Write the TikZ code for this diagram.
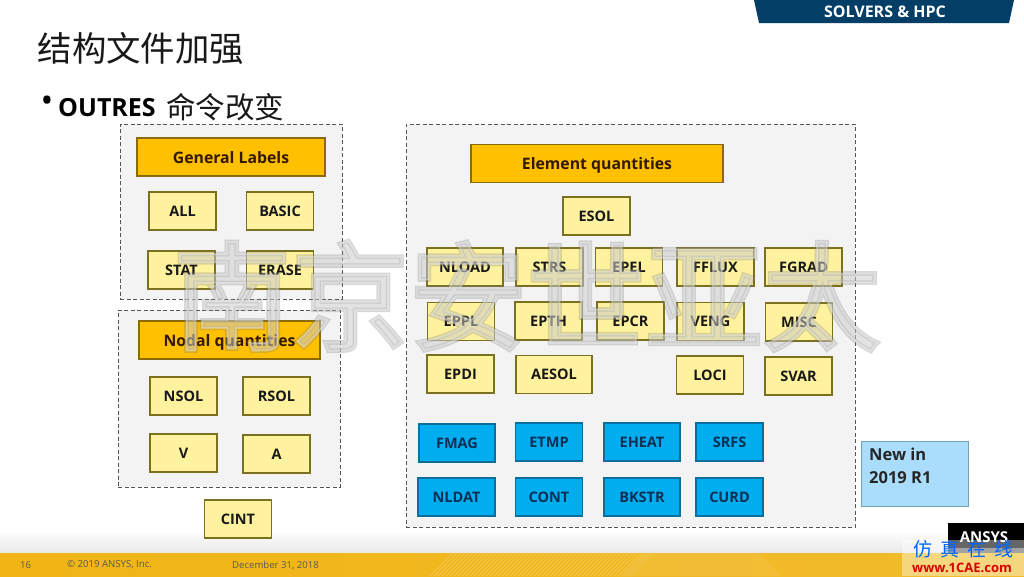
\documentclass[tikz,border=0pt]{standalone}
\usepackage{fontspec}
\setmainfont{Open Sans}
\newfontfamily\cjk{Noto Sans CJK SC}
\newfontfamily\markfont[FakeBold=4]{Noto Sans CJK SC}
\newfontfamily\markthin[FakeBold=1.5]{Noto Sans CJK SC}
\usetikzlibrary{shadings}
\definecolor{groupfill}{HTML}{F3F3F4}
\definecolor{groupline}{HTML}{555555}
\definecolor{headfill}{HTML}{FFC000}
\definecolor{headline}{HTML}{8A6A0A}
\definecolor{itemfill}{HTML}{FFF29E}
\definecolor{itemline}{HTML}{7A7020}
\definecolor{newfill}{HTML}{00AEEF}
\definecolor{newline}{HTML}{0B6E9C}
\definecolor{newtext}{HTML}{0C2F55}
\definecolor{notefill}{HTML}{A9DDFB}
\definecolor{noteline}{HTML}{6FA6B5}
\definecolor{bannerfill}{HTML}{023E66}
\definecolor{footgold}{HTML}{F0B414}
\definecolor{footpale}{HTML}{F3C752}
\tikzset{
  groupbox/.style={draw=groupline,fill=groupfill,dash pattern=on 4pt off 2.5pt,line width=1pt,minimum width=#1,inner sep=0pt},
  headbox/.style={draw=headline,fill=headfill,line width=1.5pt,font=\bfseries\fontsize{15.8}{15.8}\selectfont,text=black!80!orange,minimum height=38pt,minimum width=#1,inner sep=0pt,text depth=0pt},
  itembox/.style={draw=itemline,fill=itemfill,line width=1.6pt,font=\bfseries\fontsize{14.5}{14.5}\selectfont,text=black!90,minimum height=38pt,minimum width=#1,inner sep=0pt},
  itembox/.default=67pt,
  newbox/.style={draw=newline,fill=newfill,line width=1.3pt,font=\bfseries\fontsize{14.5}{14.5}\selectfont,text=newtext,minimum height=38pt,minimum width=#1,inner sep=0pt},
  newbox/.default=67pt,
  foottext/.style={font=\fontsize{9.6}{9.6}\selectfont,text=black!65,inner sep=0pt},
}
\begin{document}
\begin{tikzpicture}[x=1pt,y=-1pt]
\useasboundingbox (0,0) rectangle (1024,576);
\fill[white] (0,0) rectangle (1024,576);
% footer
\shade[top color=white,bottom color=black!9] (0,530) rectangle (1024,553);
\shade[left color=footgold,right color=footgold!90!white] (0,553) rectangle (1024,576);
\begin{scope}
\clip (420,553) rectangle (1024,576);
\foreach \i in {0,4,...,200} {
  \draw[footpale,line width=0.7pt] (430+\i,576) -- (453+\i,553);
}
\fill[footpale,opacity=0.35] (620,576) -- (643,553) -- (760,553) -- (780,576) -- cycle;
\end{scope}
\node[foottext,anchor=west] (pagenum) at (20,565) {16};
\node[foottext,anchor=west] (copyright) at (67,565) {© 2019 ANSYS, Inc.};
\node[foottext,anchor=west] (footdate) at (232,565) {December 31, 2018};
% banner
\fill[bannerfill] (754,0) -- (1014,0) -- (1009,23) -- (759,23) -- cycle;
\node[text=white,font=\bfseries\fontsize{16}{16}\selectfont,inner sep=0pt] (banner) at (885,12) {SOLVERS \& HPC};
% title
\node[anchor=west,font=\cjk\fontsize{34.4}{34.4}\selectfont,inner sep=0pt,text=black!90] (title) at (37.5,48) {结构文件加强};
\node[anchor=west,font=\fontsize{34}{34}\selectfont,inner sep=0pt] (bullet) at (40.5,104) {•};
\node[anchor=west,font=\bfseries\fontsize{25}{25}\selectfont,inner sep=0pt] (outres) at (58,108) {OUTRES};
\node[anchor=west,font=\cjk\fontsize{29.5}{29.5}\selectfont,inner sep=0pt,text=black!90] (outreszh) at (166,107) {命令改变};
% groups
\node[groupbox=222pt,minimum height=175pt] (generalgroup) at (231,211.5) {};
\node[groupbox=222pt,minimum height=177pt] (nodalgroup) at (229,398.5) {};
\node[groupbox=449pt,minimum height=403pt] (elementgroup) at (630.5,325.5) {};
% general labels
\node[headbox=188pt] (general) at (231,157) {General Labels};
\node[itembox] (all) at (182.5,211) {ALL};
\node[itembox] (basic) at (280,211) {BASIC};
\node[itembox] (stat) at (181.5,270) {STAT};
\node[itembox] (erase) at (280,270) {ERASE};
% nodal quantities
\node[headbox=181pt] (nodal) at (229.5,340) {Nodal quantities};
\node[itembox] (nsol) at (183.5,396) {NSOL};
\node[itembox] (rsol) at (276.5,396) {RSOL};
\node[itembox] (v) at (183.5,453) {V};
\node[itembox] (a) at (276.5,454) {A};
\node[itembox] (cint) at (238,519) {CINT};
% element quantities
\node[headbox=252pt] (element) at (597,163.5) {Element quantities};
\node[itembox] (esol) at (596.5,216) {ESOL};
\node[itembox=76pt] (nload) at (465,267) {NLOAD};
\node[itembox] (strs) at (549.5,267) {STRS};
\node[itembox] (epel) at (629,267) {EPEL};
\node[itembox=77pt] (fflux) at (715.5,267) {FFLUX};
\node[itembox=77pt] (fgrad) at (803.5,267) {FGRAD};
\node[itembox] (eppl) at (461,321.5) {EPPL};
\node[itembox] (epth) at (548.5,321) {EPTH};
\node[itembox] (epcr) at (630.5,321) {EPCR};
\node[itembox] (veng) at (710.5,321.5) {VENG};
\node[itembox] (misc) at (799,322) {MISC};
\node[itembox] (epdi) at (460.5,374) {EPDI};
\node[itembox=76pt] (aesol) at (554,374.5) {AESOL};
\node[itembox] (loci) at (710,375) {LOCI};
\node[itembox] (svar) at (798.5,376) {SVAR};
% new in 2019 R1
\node[newbox=76pt] (fmag) at (457,443) {FMAG};
\node[newbox] (etmp) at (549,442) {ETMP};
\node[newbox=76pt] (eheat) at (642,442) {EHEAT};
\node[newbox] (srfs) at (729.5,442) {SRFS};
\node[newbox=77pt] (nldat) at (456.5,497) {NLDAT};
\node[newbox] (cont) at (549,497) {CONT};
\node[newbox=76pt] (bkstr) at (642,497) {BKSTR};
\node[newbox] (curd) at (729.5,497) {CURD};
\node[draw=noteline,fill=notefill,line width=1pt,minimum width=107pt,minimum height=65pt,inner sep=0pt] (newnote) at (914.5,473.5) {};
\node[anchor=north west,align=left,font=\bfseries\fontsize{16.5}{23}\selectfont,text=black!85,inner sep=0pt] (newtext) at (869,448) {New in\\2019 R1};
% watermark
\node[font=\markfont\fontsize{118}{118}\selectfont,text=black!50,opacity=0.3,inner sep=0pt] (markback) at (527,296) {南京安世亚太};
\node[font=\markthin\fontsize{118}{118}\selectfont,text=white,opacity=0.3,inner sep=0pt] (markfront) at (527,296) {南京安世亚太};
% logo and site mark
\fill[black] (948,523) rectangle (1024,548);
\fill[black!60] (948,548) rectangle (1024,553);
\node[text=white,font=\bfseries\fontsize{15}{15}\selectfont,inner sep=0pt] (ansys) at (984,537) {ANSYS};
\fill[white,opacity=0.4] (902,540) rectangle (1024,576);
\node[text=blue!60!cyan,font=\cjk\fontsize{19}{19}\selectfont,inner sep=0pt] (sitezh) at (963,549) {仿\hspace{8pt}真\hspace{8pt}在\hspace{8pt}线};
\node[text=red!85!black,font=\bfseries\fontsize{13}{13}\selectfont,inner sep=0pt] (siteurl) at (962,568) {www.1CAE.com};
\end{tikzpicture}
\end{document}
